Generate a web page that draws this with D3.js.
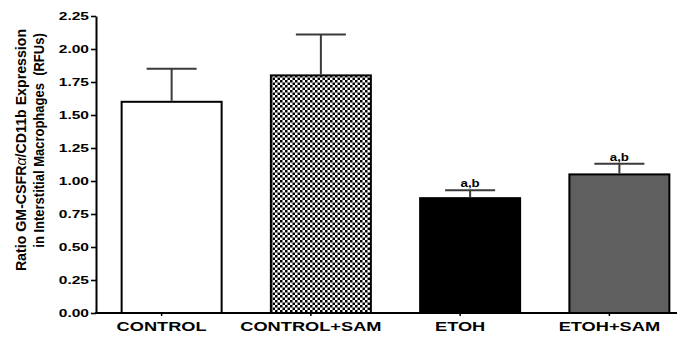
<!DOCTYPE html>
<html>
<head>
<meta charset="utf-8">
<script src="https://cdn.jsdelivr.net/npm/d3@7/dist/d3.min.js"></script>
<style>
  html, body { margin: 0; padding: 0; background: #fff; }
  svg { display: block; }
  text { font-family: Arial, "Liberation Sans", sans-serif; font-weight: bold; fill: #000; }
</style>
</head>
<body>
<svg id="chart" width="677" height="340"></svg>
<script>
// Group names, means and upper error limits (mean + SEM), in RFU ratio units
const categories = ["CONTROL", "CONTROL+SAM", "ETOH", "ETOH+SAM"];
const means      = [1.60, 1.80, 0.87, 1.05];
const errUpper   = [1.85, 2.11, 0.93, 1.13];
const sigLabels  = ["", "", "a,b", "a,b"];
const yTickValues = [0, 0.25, 0.5, 0.75, 1.0, 1.25, 1.5, 1.75, 2.0, 2.25];
const yTitleLines = ["Ratio GM-CSFR", "in Interstitial Macrophages  (RFUs)"];

// Bar appearance per group
const barStyle = {
  "CONTROL":     { fill: "#ffffff" },
  "CONTROL+SAM": { fill: "url(#checker)" },
  "ETOH":        { fill: "#000000" },
  "ETOH+SAM":    { fill: "#5f5f5f" }
};

const svg = d3.select("#chart");
const axisX = 96, y0px = 313, yTopPx = 16, rightEdge = 677;
const barShift = 10;     // bars sit slightly right of their category tick
const hStretch = 1.35;   // horizontal widening of the lettering

// checkerboard fill
const defs = svg.append("defs");
const pat = defs.append("pattern")
  .attr("id", "checker").attr("patternUnits", "userSpaceOnUse")
  .attr("width", 5).attr("height", 5);
pat.append("rect").attr("width", 5).attr("height", 5).attr("fill", "#fff");
pat.append("rect").attr("width", 2.5).attr("height", 2.5).attr("fill", "#000");
pat.append("rect").attr("x", 2.5).attr("y", 2.5).attr("width", 2.5).attr("height", 2.5).attr("fill", "#000");

const y = d3.scaleLinear().domain([0, 2.25]).range([y0px, yTopPx]);
const x = d3.scaleBand().domain(categories).range([87, 684])
  .paddingInner(0.33).paddingOuter(0.165);
const bw = x.bandwidth();
const center = c => x(c) + bw / 2;

function stretch(sel, k) {
  sel.each(function () {
    const w = this.getComputedTextLength();
    d3.select(this).attr("textLength", w * k).attr("lengthAdjust", "spacingAndGlyphs");
  });
}

// bars
const data = categories.map((c, i) => ({ c, m: means[i], e: errUpper[i], s: sigLabels[i] }));
svg.append("g").selectAll("rect").data(data).join("rect")
  .attr("x", d => center(d.c) - bw / 2 + barShift)
  .attr("y", d => y(d.m))
  .attr("width", bw)
  .attr("height", d => y(0) - y(d.m))
  .attr("fill", d => barStyle[d.c].fill)
  .attr("stroke", "#000")
  .attr("stroke-width", 2);

// upper error bars
const eb = svg.append("g").attr("stroke", "#3a3a3a").attr("stroke-width", 2);
data.forEach(d => {
  const cx = center(d.c) + barShift;
  eb.append("line").attr("x1", cx).attr("x2", cx).attr("y1", y(d.m) - 1).attr("y2", y(d.e));
  eb.append("line").attr("x1", cx - bw / 4).attr("x2", cx + bw / 4).attr("y1", y(d.e)).attr("y2", y(d.e));
});

// significance markers
svg.append("g").selectAll("text").data(data.filter(d => d.s)).join("text")
  .attr("x", d => center(d.c) + barShift)
  .attr("y", d => y(d.e) - 3)
  .attr("text-anchor", "middle")
  .attr("font-size", 10)
  .text(d => d.s)
  .call(stretch, 1.33);

// y axis
const gy = svg.append("g").attr("transform", `translate(${axisX},0)`)
  .call(d3.axisLeft(y).tickValues(yTickValues).tickFormat(d3.format(".2f"))
    .tickSize(5).tickSizeOuter(0).tickPadding(2));
gy.select(".domain").attr("stroke-width", 2);
gy.selectAll(".tick line").attr("stroke-width", 1.6);
gy.selectAll(".tick text").attr("font-size", 11.5).attr("font-family", null)
  .call(stretch, hStretch);

// x axis
const gx = svg.append("g").attr("transform", `translate(0,${y0px})`)
  .call(d3.axisBottom(x).tickSize(3).tickSizeOuter(0).tickPadding(5));
gx.select(".domain").remove();
gx.selectAll(".tick line").attr("stroke-width", 1.5);
gx.selectAll(".tick text").attr("font-size", 13.5).attr("font-family", null)
  .call(stretch, hStretch);
svg.append("line").attr("x1", axisX - 1).attr("x2", rightEdge)
  .attr("y1", y0px).attr("y2", y0px).attr("stroke", "#000").attr("stroke-width", 2);

// y axis title (two rotated lines, glyphs widened across the line)
const t1 = svg.append("text")
  .attr("transform", "translate(25.5,150) rotate(-90) scale(1,1.05)")
  .attr("text-anchor", "middle").attr("font-size", 14.2);
t1.append("tspan").text(yTitleLines[0]);
t1.append("tspan").attr("font-style", "italic").attr("font-weight", "normal").text("\u03b1");
t1.append("tspan").text("/CD11b Expression");

svg.append("text")
  .attr("transform", "translate(44,140.5) rotate(-90) scale(1,1.12)")
  .attr("text-anchor", "middle").attr("font-size", 13)
  .style("white-space", "pre")
  .text(yTitleLines[1]);
</script>
</body>
</html>
